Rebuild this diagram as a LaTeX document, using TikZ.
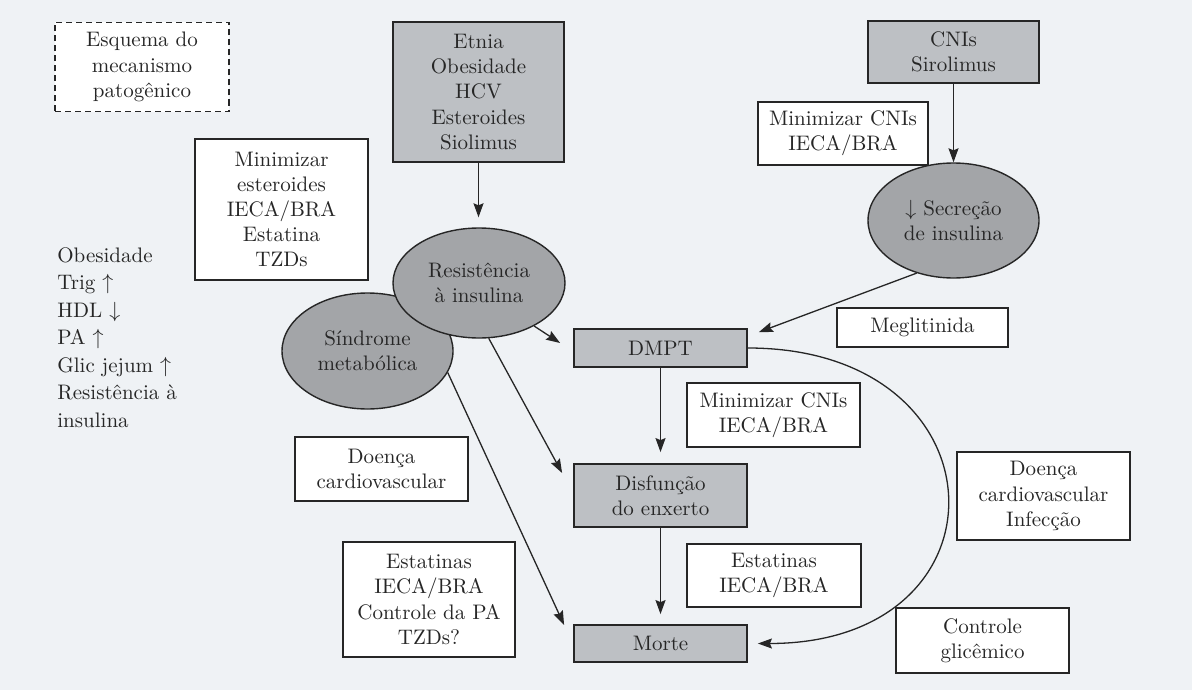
\documentclass[tikz,border=0pt]{standalone}
\usetikzlibrary{arrows.meta,shapes.geometric}
\definecolor{pagebg}{RGB}{239,242,245}
\definecolor{boxgray}{RGB}{189,192,196}
\definecolor{ovalgray}{RGB}{163,165,168}
\definecolor{inkc}{RGB}{38,38,38}

\begin{document}
\begin{tikzpicture}[x=0.5pt,y=-0.5pt,
  txt/.style={font=\fontsize{10.5}{12.6}\selectfont, align=center, text=inkc},
  whitebox/.style={txt, rectangle, draw=inkc, fill=white, line width=0.9pt,
                   inner sep=0pt, minimum width=86.5pt},
  graybox/.style={whitebox, fill=boxgray},
  oval/.style={txt, ellipse, draw=inkc, fill=ovalgray, line width=0.7pt, inner sep=0pt},
  conn/.style={draw=inkc, line width=0.65pt, -{Stealth[length=7pt,width=5pt,inset=1pt]}}]

% page
\fill[pagebg] (0,0) rectangle (1192,690);
\useasboundingbox (0,0) rectangle (1192,690);

% title box
\node[txt, rectangle, draw=inkc, fill=white, line width=0.9pt, dash pattern=on 3pt off 2pt,
      inner sep=0pt, minimum width=87pt, minimum height=44.5pt] (esq) at (142,67)
      {Esquema do\\mecanismo\\patogênico};

% risk factors
\node[graybox, minimum width=85.5pt, minimum height=70pt] (fat) at (478.5,92)
      {Etnia\\Obesidade\\HCV\\Esteroides\\Siolimus};
\node[graybox, minimum width=85.5pt, minimum height=31pt] (cni) at (953.5,52)
      {CNIs\\Sirolimus};

% interventions
\node[whitebox, minimum width=85pt, minimum height=31.5pt] (mincniA) at (843,133.5)
      {Minimizar CNIs\\IECA/BRA};
\node[whitebox, minimum height=70.5pt] (minest) at (281.5,209.5)
      {Minimizar\\esteroides\\IECA/BRA\\Estatina\\TZDs};

% criteria list
\node[txt, align=left, font=\fontsize{10.5}{13.75}\selectfont, anchor=north west,
      inner sep=0pt] (crit) at (57,247)
      {Obesidade\\Trig $\uparrow$\\HDL $\downarrow$\\PA $\uparrow$\\Glic jejum $\uparrow$\\Resistência à\\insulina};

% mechanisms
\node[oval, minimum width=85.5pt, minimum height=58pt] (sind) at (367.5,351)
      {Síndrome\\metabólica};
\node[oval, minimum width=86pt, minimum height=55pt] (resi) at (479,283)
      {Resistência\\à insulina};
\node[oval, minimum width=85.5pt, minimum height=57.5pt] (secr) at (953.5,220.5)
      {$\downarrow$ Secreção\\de insulina};

\node[whitebox, minimum width=85.5pt, minimum height=19.5pt] (megl) at (922.5,327.5)
      {Meglitinida};

% outcomes
\node[graybox, minimum height=19pt] (dmpt) at (660.5,348) {DMPT};
\node[whitebox, minimum height=32pt] (mincniB) at (773.5,415)
      {Minimizar CNIs\\IECA/BRA};
\node[graybox, minimum height=31.5pt] (disf) at (660.5,495.5)
      {Disfunção\\do enxerto};
\node[whitebox, minimum width=87pt, minimum height=31.5pt] (estB) at (774,575.5)
      {Estatinas\\IECA/BRA};
\node[graybox, minimum height=18.5pt] (morte) at (660.5,643.5) {Morte};

\node[whitebox, minimum width=86pt, minimum height=57.5pt] (estA) at (429,599.5)
      {Estatinas\\IECA/BRA\\Controle da PA\\TZDs?};
\node[whitebox, minimum height=32pt] (dcvA) at (381.5,469)
      {Doença\\cardiovascular};
\node[whitebox, minimum height=44pt] (dcvB) at (1043.5,496)
      {Doença\\cardiovascular\\Infecção};
\node[whitebox, minimum height=32.5pt] (glic) at (982.5,640.5)
      {Controle\\glicêmico};

% connectors
\draw[conn, shorten >=5pt] (fat.south) -- (fat.south |- resi.north);
\draw[conn] (cni.south) -- (secr.north);
\draw[conn] (secr.235) -- ([xshift=5.5pt,yshift=-2pt]dmpt.north east);
\draw[conn] (resi.322) -- ([xshift=-6.5pt,yshift=2.5pt]dmpt.west);
\draw[conn] (resi.280) -- ([xshift=-5.5pt,yshift=11.25pt]disf.west);
\draw[conn] (sind.345) -- ([xshift=-4.5pt,yshift=9.25pt]morte.west);
\draw[conn, shorten >=5.5pt] (dmpt.south) -- (disf.north);
\draw[conn, shorten >=5pt] (disf.south) -- (morte.north);
\draw[conn] (dmpt.east) .. controls +(260,0) and +(258,0) .. ([xshift=5pt]morte.east);

\end{tikzpicture}
\end{document}
